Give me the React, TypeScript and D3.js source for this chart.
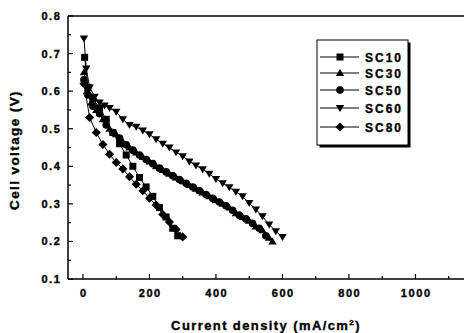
import React from "react";
import * as d3 from "d3";

const xTicks = [0, 200, 400, 600, 800, 1000];
const yTicks = [0.1, 0.2, 0.3, 0.4, 0.5, 0.6, 0.7, 0.8];

const sc10X = [5, 15, 30, 50, 70, 90, 110, 130, 150, 170, 190, 210, 230, 250, 270, 285];
const sc10Y = [0.69, 0.61, 0.58, 0.555, 0.525, 0.49, 0.46, 0.43, 0.4, 0.37, 0.345, 0.32, 0.29, 0.265, 0.235, 0.215];

const sc30X = [3, 12, 25, 40, 60, 80, 100, 120, 140, 160, 180, 200, 220, 240, 260, 280, 300, 320, 340, 360, 380, 400, 420, 440, 460, 480, 500, 520, 540, 560, 570];
const sc30Y = [0.65, 0.6, 0.57, 0.55, 0.525, 0.5, 0.485, 0.465, 0.45, 0.437, 0.425, 0.413, 0.4, 0.39, 0.38, 0.37, 0.36, 0.35, 0.34, 0.33, 0.32, 0.31, 0.3, 0.29, 0.275, 0.265, 0.255, 0.24, 0.23, 0.21, 0.2];

const sc50X = [3, 15, 30, 50, 70, 90, 110, 130, 150, 170, 190, 210, 230, 250, 270, 290, 310, 330, 350, 370, 390, 410, 430, 450, 470, 490, 510, 530, 550];
const sc50Y = [0.63, 0.59, 0.56, 0.54, 0.51, 0.49, 0.475, 0.457, 0.443, 0.43, 0.418, 0.407, 0.395, 0.385, 0.375, 0.365, 0.355, 0.345, 0.335, 0.325, 0.315, 0.305, 0.295, 0.283, 0.27, 0.26, 0.248, 0.235, 0.215];

const sc60X = [3, 10, 20, 35, 50, 65, 80, 100, 120, 140, 160, 180, 200, 220, 240, 260, 280, 300, 320, 340, 360, 380, 400, 420, 440, 460, 480, 500, 520, 540, 560, 580, 600];
const sc60Y = [0.74, 0.66, 0.61, 0.585, 0.57, 0.562, 0.555, 0.545, 0.525, 0.51, 0.505, 0.495, 0.485, 0.472, 0.46, 0.45, 0.437, 0.427, 0.413, 0.402, 0.392, 0.38, 0.366, 0.355, 0.344, 0.332, 0.32, 0.302, 0.285, 0.267, 0.245, 0.227, 0.212];

const sc80X = [3, 20, 40, 60, 80, 100, 120, 140, 160, 180, 200, 220, 240, 260, 280, 300];
const sc80Y = [0.62, 0.53, 0.49, 0.458, 0.432, 0.41, 0.393, 0.372, 0.352, 0.335, 0.315, 0.297, 0.272, 0.252, 0.232, 0.212];

const seriesNames = ["SC10", "SC30", "SC50", "SC60", "SC80"];
const seriesX = [sc10X, sc30X, sc50X, sc60X, sc80X];
const seriesY = [sc10Y, sc30Y, sc50Y, sc60Y, sc80Y];
const markers = ["square", "triangle", "circle", "down", "diamond"];

const FONT = "'Liberation Sans', Arial, sans-serif";
const heavy = { fontFamily: FONT, fontWeight: "bold" as const, stroke: "#000", strokeWidth: 0.35 };

function Marker({ kind, x, y, s }: { kind: string; x: number; y: number; s: number }) {
  if (kind === "square") return <rect x={x - s / 2} y={y - s / 2} width={s} height={s} fill="#000" />;
  if (kind === "circle") return <circle cx={x} cy={y} r={s / 2 + 0.3} fill="#000" />;
  if (kind === "triangle") {
    const h = s * 0.95;
    return <path d={`M${x},${y - h * 0.6}L${x + s * 0.6},${y + h * 0.45}L${x - s * 0.6},${y + h * 0.45}Z`} fill="#000" />;
  }
  if (kind === "down") {
    const h = s * 0.95;
    return <path d={`M${x},${y + h * 0.6}L${x + s * 0.6},${y - h * 0.45}L${x - s * 0.6},${y - h * 0.45}Z`} fill="#000" />;
  }
  const r = s * 0.65;
  return <path d={`M${x},${y - r}L${x + r},${y}L${x},${y + r}L${x - r},${y}Z`} fill="#000" />;
}

export default function App() {
  const W = 464, H = 333;
  const left = 68, right = 464, top = 16, bottom = 279;
  const x = d3.scaleLinear().domain([-45, 1146]).range([left, right]);
  const y = d3.scaleLinear().domain([0.1, 0.8]).range([bottom, top]);
  const line = d3.line<number[]>().x((d) => x(d[0])).y((d) => y(d[1]));
  const xMinor = d3.range(0, 1150, 100);
  const yMinor = d3.range(0.1, 0.8001, 0.05);

  const legX = 317, legY = 40, legW = 91, legH = 105;
  const rowY = [57, 73, 90, 108, 127];

  return (
    <svg width={W} height={H} style={{ position: "absolute", left: 0, top: 0, background: "#fff" }}>
      <rect width={W} height={H} fill="#fff" />
      <line x1={left} y1={top} x2={right} y2={top} stroke="#000" strokeWidth={1.5} />
      <line x1={left} y1={top} x2={left} y2={bottom} stroke="#000" strokeWidth={1.5} />
      <line x1={left} y1={bottom} x2={right} y2={bottom} stroke="#000" strokeWidth={1.5} />
      {xMinor.map((v) => (
        <line key={"xm" + v} x1={x(v)} x2={x(v)} y1={bottom} y2={bottom - (v % 200 === 0 ? 5 : 3)} stroke="#000" strokeWidth={1.2} />
      ))}
      {xTicks.map((v) => (
        <text key={"xt" + v} x={x(v) + 0.8} y={297} textAnchor="middle" fontSize={11} letterSpacing={1.6} {...heavy}>
          {v}
        </text>
      ))}
      {yMinor.map((v, i) => (
        <line key={"ym" + i} x1={left} x2={left + (i % 2 === 0 ? 5 : 3)} y1={y(v)} y2={y(v)} stroke="#000" strokeWidth={1.2} />
      ))}
      {yTicks.map((v) => (
        <text key={"yt" + v} x={61.5} y={y(v) + 4} textAnchor="end" fontSize={11} letterSpacing={1.6} {...heavy}>
          {v.toFixed(1)}
        </text>
      ))}
      <text x={266} y={330} textAnchor="middle" fontSize={13} letterSpacing={1.4} {...heavy}>
        Current density (mA/cm<tspan dy={-5} fontSize={8}>2</tspan><tspan dy={5}>)</tspan>
      </text>
      <text transform={`translate(19,150) rotate(-90)`} textAnchor="middle" fontSize={13.5} letterSpacing={1.4} {...heavy}>
        Cell voltage (V)
      </text>
      {seriesNames.map((n, si) => {
        const pts = seriesX[si].map((xv, i) => [xv, seriesY[si][i]]);
        return (
          <g key={n}>
            <path d={line(pts) || ""} fill="none" stroke="#000" strokeWidth={1} />
            {pts.map((p, i) => (
              <Marker key={i} kind={markers[si]} x={x(p[0])} y={y(p[1])} s={7} />
            ))}
          </g>
        );
      })}
      <rect x={legX + 2.5} y={legY + 2.5} width={legW} height={legH} fill="#000" />
      <rect x={legX} y={legY} width={legW} height={legH} fill="#fff" stroke="#000" strokeWidth={1} />
      {seriesNames.map((n, i) => (
        <g key={"leg" + n}>
          <line x1={legX + 3} x2={legX + 42} y1={rowY[i]} y2={rowY[i]} stroke="#000" strokeWidth={1} />
          <Marker kind={markers[i]} x={legX + 23} y={rowY[i]} s={7} />
          <text x={legX + 48} y={rowY[i] + 4.5} fontSize={12} letterSpacing={2} {...heavy}>
            {n}
          </text>
        </g>
      ))}
    </svg>
  );
}
